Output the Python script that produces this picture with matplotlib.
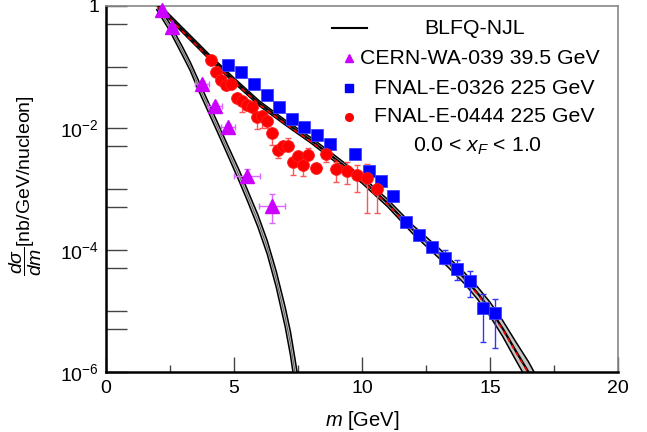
import numpy as np
import matplotlib
matplotlib.use('Agg')
import matplotlib.pyplot as plt
from matplotlib.ticker import FixedLocator, FuncFormatter, NullFormatter

plt.rcParams['font.family'] = ['Liberation Sans', 'DejaVu Sans']
plt.rcParams['mathtext.fontset'] = 'custom'
plt.rcParams['mathtext.rm'] = 'Liberation Sans'
plt.rcParams['mathtext.it'] = 'Liberation Sans:italic'
plt.rcParams['mathtext.bf'] = 'Liberation Sans:bold'

# ---- BLFQ-NJL curves (log10 of dsigma/dm) ----
# 225 GeV band
m_225 = [2.05, 3.0, 4.0, 5.0, 6.0, 7.0, 8.0, 9.0, 10.0, 11.0, 12.0, 13.0, 14.0, 14.5, 15.0, 15.5, 16.0, 16.5, 16.8]
log_225 = [0.0, -0.40, -0.82, -1.22, -1.60, -1.91, -2.20, -2.52, -2.85, -3.23, -3.67, -4.05, -4.46, -4.70, -4.97, -5.29, -5.65, -6.0, -6.25]
half_225 = [0.04, 0.04, 0.04, 0.04, 0.04, 0.04, 0.045, 0.05, 0.055, 0.06, 0.07, 0.08, 0.09, 0.10, 0.115, 0.13, 0.15, 0.17, 0.19]
# 39.5 GeV band
m_395 = [1.98, 2.48, 3.0, 3.29, 3.58, 4.0, 4.40, 4.75, 5.21, 5.53, 5.93, 6.30, 6.65, 7.00, 7.20, 7.38, 7.50]
log_395 = [0.0, -0.34, -0.75, -0.99, -1.27, -1.66, -2.03, -2.36, -2.79, -3.11, -3.52, -3.96, -4.48, -5.10, -5.52, -6.0, -6.35]
half_395 = [0.06, 0.06, 0.07, 0.07, 0.08, 0.08, 0.08, 0.08, 0.09, 0.09, 0.10, 0.11, 0.13, 0.16, 0.19, 0.22, 0.25]

# ---- CERN-WA-039 39.5 GeV ----
wa039_m = [2.19, 2.58, 3.75, 4.26, 4.77, 5.51, 6.48]
wa039_dm = [0.10, 0.10, 0.27, 0.27, 0.27, 0.52, 0.52]
wa039_y = [0.859, 0.453, 0.052, 0.0229, 0.0103, 0.00165, 0.000532]
wa039_lo = [0.80, 0.42, 0.046, 0.020, 0.0091, 0.00128, 0.000274]
wa039_hi = [0.92, 0.49, 0.059, 0.026, 0.0117, 0.00213, 0.000828]

# ---- FNAL-E-0326 225 GeV ----
e326_m = [4.77, 5.27, 5.77, 6.28, 6.77, 7.25, 7.75, 8.25, 8.74, 9.73, 10.26, 10.74,
          11.22, 11.72, 12.24, 12.72, 13.23, 13.72, 14.22, 14.71, 15.21]
e326_y = [0.107, 0.0828, 0.0526, 0.0348, 0.0223, 0.0142, 0.0105, 0.00776, 0.00537, 0.00375, 0.00195, 0.00137,
          7.67e-4, 2.88e-4, 1.76e-4, 1.13e-4, 7.48e-5, 4.89e-5, 3.07e-5, 1.11e-5, 9.17e-6]
e326_lo = [0.100, 0.078, 0.050, 0.033, 0.021, 0.0135, 0.0100, 0.0074, 0.0051, 0.00357, 0.00185, 0.00130,
           7.3e-4, 2.74e-4, 1.65e-4, 1.02e-4, 6.0e-5, 3.22e-5, 1.71e-5, 3.14e-6, 2.45e-6]
e326_hi = [0.113, 0.087, 0.055, 0.0365, 0.0234, 0.0149, 0.0110, 0.0082, 0.0056, 0.00394, 0.00205, 0.00144,
           8.1e-4, 3.02e-4, 1.9e-4, 1.25e-4, 1.0e-4, 6.78e-5, 4.53e-5, 1.88e-5, 1.57e-5]

# ---- FNAL-E-0444 225 GeV ----
e444_m = [4.10, 4.30, 4.50, 4.70, 4.90, 5.10, 5.30, 5.50, 5.70, 5.90, 6.10, 6.30, 6.50, 6.70,
          6.90, 7.10, 7.30, 7.50, 7.70, 7.90, 8.20, 8.60, 9.00, 9.40, 9.80, 10.20, 10.60]
e444_y = [0.130, 0.0838, 0.0601, 0.0507, 0.0526, 0.0314, 0.0277, 0.0238, 0.0223, 0.0153, 0.0160, 0.0130,
          0.00818, 0.00436, 0.00511, 0.00513, 0.00277, 0.00348, 0.00252, 0.00361, 0.00223, 0.00368,
          0.00213, 0.00201, 0.00170, 0.00150, 0.00101]
e444_lo = [0.122, 0.078, 0.056, 0.047, 0.049, 0.029, 0.0185, 0.022, 0.0205, 0.00964, 0.0100, 0.00989,
           0.00526, 0.00322, 0.00470, 0.00470, 0.00170, 0.00320, 0.00165, 0.00335, 0.00183, 0.00280,
           0.00132, 0.00119, 0.000903, 0.000404, 0.000404]
e444_hi = [0.138, 0.089, 0.064, 0.054, 0.056, 0.0335, 0.0295, 0.0255, 0.0240, 0.0165, 0.0172, 0.0140,
           0.0088, 0.00470, 0.00550, 0.00686, 0.00300, 0.00375, 0.00272, 0.00475, 0.00240, 0.00436,
           0.00280, 0.00280, 0.00247, 0.00257, 0.00163]

W, H = 647, 432
fig = plt.figure(figsize=(W / 100, H / 100), dpi=100)
ax = fig.add_axes([106 / W, 60 / H, 512 / W, 366 / H])


def draw_band(m, logy, half, center_red):
    m = np.array(m)
    c = np.array(logy)
    h = np.array(half)
    ax.fill_between(m, 10 ** (c - h), 10 ** (c + h), color='#c4c4c4', lw=0, zorder=2)
    ax.plot(m, 10 ** (c - h), color='black', lw=1.1, zorder=3)
    ax.plot(m, 10 ** (c + h), color='black', lw=1.1, zorder=3)
    if center_red:
        ax.plot(m, 10 ** c, color='black', lw=1.6, zorder=3)
        ax.plot(m, 10 ** (c - 0.02), color='red', lw=1.2, dashes=(2.5, 2.5), zorder=4)
    else:
        ax.plot(m, 10 ** c, color='#555555', lw=0.6, zorder=3)


draw_band(m_395, log_395, half_395, False)
draw_band(m_225, log_225, half_225, True)

# data points
y = np.array(wa039_y)
ax.errorbar(wa039_m, y, xerr=wa039_dm, yerr=[y - np.array(wa039_lo), np.array(wa039_hi) - y],
            fmt='none', ecolor='#dd66ff', elinewidth=1.0, capsize=2.5, zorder=5)
ax.plot(wa039_m, y, '^', color='#cc00ff', ms=9.5, mec='#cc00ff', zorder=6, clip_on=False)

y = np.array(e326_y)
ax.errorbar(e326_m, y, yerr=[y - np.array(e326_lo), np.array(e326_hi) - y],
            fmt='none', ecolor='#3333ff', elinewidth=1.0, capsize=2.5, zorder=5)
ax.plot(e326_m, y, 's', color='#0000ff', ms=8.2, mec='#4040ff', mew=0.6, zorder=6)

y = np.array(e444_y)
ax.errorbar(e444_m, y, yerr=[y - np.array(e444_lo), np.array(e444_hi) - y],
            fmt='none', ecolor='#ff5555', elinewidth=1.0, capsize=2.5, zorder=5)
ax.plot(e444_m, y, 'o', color='#ff0000', ms=8.5, mec='#ff2020', mew=0.6, zorder=6)

# axes
ax.set_xlim(0, 20)
ax.set_yscale('log')
ax.set_ylim(1e-6, 1)

for s in ['left', 'bottom']:
    ax.spines[s].set_linewidth(1.8)
    ax.spines[s].set_color('black')
for s in ['top', 'right']:
    ax.spines[s].set_linewidth(1.2)
    ax.spines[s].set_color('#888888')

ax.xaxis.set_major_locator(FixedLocator([0, 5, 10, 15, 20]))
ax.xaxis.set_minor_locator(FixedLocator([2.5, 7.5, 12.5, 17.5]))
ax.yaxis.set_major_locator(FixedLocator([10.0 ** k for k in range(-6, 1)]))
ax.yaxis.set_minor_locator(FixedLocator([5 * 10.0 ** k for k in range(-6, 0)]))


def ylab(v, pos):
    k = int(round(np.log10(v)))
    if k % 2:
        return ''
    if k == 0:
        return '1'
    return r'$10^{%d}$' % k


ax.yaxis.set_major_formatter(FuncFormatter(ylab))
ax.yaxis.set_minor_formatter(NullFormatter())
ax.tick_params(axis='x', which='major', direction='in', length=11, width=1, color='#444444',
               labelsize=14, pad=6, top=False)
ax.tick_params(axis='x', which='minor', direction='in', length=5, width=1, color='#444444', top=False)
ax.tick_params(axis='y', which='both', direction='in', length=15, width=1, color='#444444',
               labelsize=14, pad=5, right=False)

ax.set_xlabel(r'$m$ [GeV]', fontsize=14.5)
ax.xaxis.set_label_coords(0.5, -0.1)
ax.set_ylabel(r'$\dfrac{d\sigma}{dm}$[nb/GeV/nucleon]', fontsize=14)
ax.yaxis.set_label_coords(-0.121, 0.51)


# legend (figure pixel positions)
def fx(px):
    return px / W


def fy(py):
    return 1 - py / H


fs = 15.3
fig.add_artist(plt.Line2D([fx(332), fx(367)], [fy(28), fy(28)], color='black', lw=1.5))
fig.text(fx(474.5), fy(28), 'BLFQ-NJL', fontsize=fs, ha='center', va='center')
fig.add_artist(plt.Line2D([fx(349.3)], [fy(58.3)], marker='^', color='#cc00ff', ms=6))
fig.text(fx(360), fy(58), 'CERN-WA-039 39.5 GeV', fontsize=fs, ha='left', va='center')
fig.add_artist(plt.Line2D([fx(349.3)], [fy(87.5)], marker='s', color='#0000ff', ms=5.5))
fig.text(fx(374), fy(88), 'FNAL-E-0326 225 GeV', fontsize=fs, ha='left', va='center')
fig.add_artist(plt.Line2D([fx(349.3)], [fy(116.7)], marker='o', color='#ff0000', ms=5.5))
fig.text(fx(374), fy(117), 'FNAL-E-0444 225 GeV', fontsize=fs, ha='left', va='center')
fig.text(fx(477.5), fy(146), r'0.0 < $x_F$ < 1.0', fontsize=fs, ha='center', va='center')

fig.savefig('out.png', dpi=100)
